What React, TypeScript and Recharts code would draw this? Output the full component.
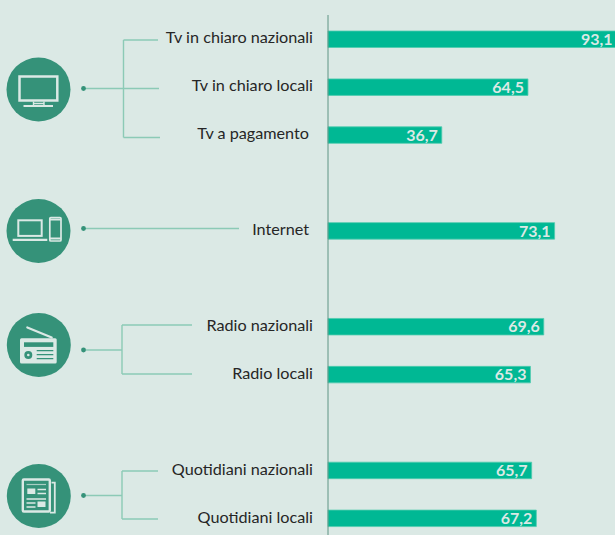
import { BarChart, Bar, XAxis, YAxis, LabelList } from 'recharts';

// blank rows are the gaps between the media groups
const categories = [
  'Tv in chiaro nazionali',
  'Tv in chiaro locali',
  'Tv a pagamento',
  '',
  'Internet',
  '',
  'Radio nazionali',
  'Radio locali',
  '',
  'Quotidiani nazionali',
  'Quotidiani locali',
];
const values = [93.1, 64.5, 36.7, null, 73.1, null, 69.6, 65.3, null, 65.7, 67.2];

// these two labels sit a little left of the others in the original
const shiftedLabels = ['Tv a pagamento', 'Internet'];

const rows = categories.map((label, i) => ({ id: i, label, value: values[i] }));

const BG = '#dbe9e5';
const BAR = '#00b894';
const CIRCLE = '#359279';
const CONNECTOR = '#8ccab6';
const FONT = 'Lato, sans-serif';

function CategoryTick({ x, y, payload }: any) {
  const label = categories[payload.value];
  const dx = shiftedLabels.includes(label) ? -4 : 0;
  return (
    <text x={x + dx - 7} y={y + 4.5} textAnchor="end" fontSize={16.2} fontFamily={FONT} fill="#262626">
      {label}
    </text>
  );
}

function Connectors() {
  const line = { stroke: CONNECTOR, strokeWidth: 1.4, fill: 'none' };
  return (
    <g {...line}>
      <path d="M84 88.5H159M123.5 40H158M123.5 137.5H160M123.5 40V137.5" />
      <path d="M84 228.5H239" />
      <path d="M84 350H122M122 325V374M122 325H192M122 374H192" />
      <path d="M84 495.5H122M122 471V519M122 471H158M122 519H158" />
      {[88.5, 228.5, 350, 495.5].map((cy) => (
        <circle key={cy} cx={83.5} cy={cy} r={2.4} fill={CIRCLE} stroke="none" />
      ))}
    </g>
  );
}

function Icons() {
  return (
    <g>
      <circle cx={38.5} cy={89.5} r={32} fill={CIRCLE} />
      <circle cx={38.5} cy={231} r={32} fill={CIRCLE} />
      <circle cx={38.8} cy={345} r={32} fill={CIRCLE} />
      <circle cx={38.8} cy={496} r={32} fill={CIRCLE} />

      {/* tv */}
      <rect x={19.5} y={76.5} width={37.8} height={24} fill="none" stroke={BG} strokeWidth={2.5} />
      <path d="M33.5 101.5V105.5M44 101.5V105.5M33.5 103.5H44" stroke={BG} strokeWidth={1.4} />
      <path d="M23.5 106H53" stroke={BG} strokeWidth={2} />

      {/* laptop and phone */}
      <rect x={18.3} y={220.3} width={23.4} height={15.6} fill="none" stroke={BG} strokeWidth={2} />
      <path d="M12.7 239.8H47.3" stroke={BG} strokeWidth={2.2} />
      <rect x={49.8} y={217.5} width={11.2} height={23.5} rx={1} fill="none" stroke={BG} strokeWidth={1.7} />
      <path d="M50 219.5H60.8M50 238.5H60.8" stroke={BG} strokeWidth={2} />

      {/* radio */}
      <path d="M27.3 327.5L51.7 337.5" stroke={BG} strokeWidth={2.2} strokeLinecap="round" />
      <rect x={20} y={338.3} width={36.7} height={25.2} rx={1.5} fill={BG} />
      <rect x={24} y={342.3} width={29.3} height={4.6} fill={CIRCLE} />
      <circle cx={28.3} cy={355} r={4} fill={CIRCLE} />
      <circle cx={28.3} cy={355} r={1.3} fill={BG} />
      <path d="M36.7 350.7H53.3M36.7 354.7H53.3M36.7 358.7H53.3" stroke={CIRCLE} strokeWidth={1.3} />

      {/* newspaper */}
      <path d="M51.5 482.7H54.8V512.7H50" fill="none" stroke={BG} strokeWidth={1.8} />
      <rect x={22.8} y={479.5} width={27} height={32} rx={1} fill={CIRCLE} stroke={BG} strokeWidth={2.4} />
      <path d="M26.5 484.5H46" stroke={BG} strokeWidth={1.2} opacity={0.7} />
      <rect x={27.3} y={488.5} width={8} height={5.5} fill={BG} />
      <path d="M37.5 489.5H46M37.5 493.5H46M26.5 499H46M26.5 503H35.5M26.5 507H35.5" stroke={BG} strokeWidth={1.3} />
      <rect x={37.5} y={501.5} width={8} height={5.5} fill={BG} />
    </g>
  );
}

export default function App() {
  return (
    <div
      style={{
        position: 'absolute',
        left: 0,
        top: 0,
        width: 615,
        height: 535,
        overflow: 'hidden',
        background: BG,
      }}
    >
      <svg width={615} height={535} style={{ position: 'absolute', left: 0, top: 0 }}>
        <Connectors />
        <Icons />
      </svg>
      <div style={{ position: 'absolute', left: 0, top: 0 }}>
        <BarChart
          width={638}
          height={542}
          data={rows}
          layout="vertical"
          margin={{ top: 15, right: 0, bottom: 0, left: 0 }}
          barCategoryGap={0}
        >
          <XAxis type="number" domain={[0, 100]} hide />
          <YAxis
            type="category"
            dataKey="id"
            width={328}
            interval={0}
            tickLine={false}
            axisLine={{ stroke: '#5f9484', strokeWidth: 1 }}
            tick={<CategoryTick />}
          />
          <Bar
            dataKey="value"
            fill={BAR}
            stroke="#4fcbae"
            strokeWidth={0.8}
            barSize={16.5}
            isAnimationActive={false}
          >
            <LabelList
              dataKey="value"
              position="insideRight"
              offset={4}
              fill={BG}
              fontSize={16}
              fontWeight={700}
              fontFamily={FONT}
              formatter={(v: any) => (v == null ? '' : String(v).replace('.', ','))}
            />
          </Bar>
        </BarChart>
      </div>
    </div>
  );
}
